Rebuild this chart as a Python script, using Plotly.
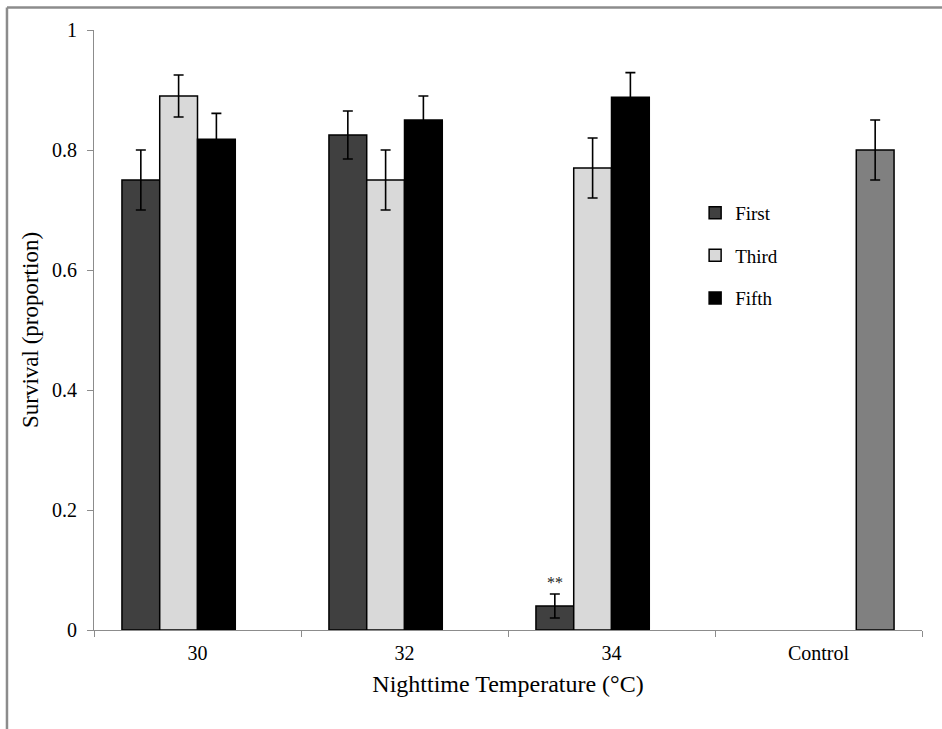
import plotly.graph_objects as go

# Survival of larvae under nighttime heat exposure, by instar treated
categories = ["30", "32", "34", "Control"]

first = [0.75, 0.825, 0.04, None]
first_err = [0.05, 0.04, 0.02, None]

third = [0.89, 0.75, 0.77, None]
third_err = [0.035, 0.05, 0.05, None]

fifth = [0.818, 0.85, 0.888, None]
fifth_err = [0.043, 0.04, 0.041, None]

control = [None, None, None, 0.80]
control_err = [None, None, None, 0.05]

y_ticks = [0, 0.2, 0.4, 0.6, 0.8, 1]
y_tick_labels = ["0", "0.2", "0.4", "0.6", "0.8", "1"]

FONT = "Liberation Serif"
AXIS_GRAY = "#8c8c8c"


def bar_trace(name, values, errors, color, show_legend=True):
    return go.Bar(
        name=name,
        x=categories,
        y=values,
        legendgroup=name,
        showlegend=show_legend,
        marker=dict(color=color, line=dict(color="black", width=1.5)),
        error_y=dict(type="data", array=errors, visible=True,
                     color="black", thickness=1.6, width=5),
    )


fig = go.Figure()
fig.add_trace(bar_trace("First", first, first_err, "#404040"))
fig.add_trace(bar_trace("Third", third, third_err, "#d9d9d9"))
fig.add_trace(bar_trace("Fifth", fifth, fifth_err, "#000000"))
fig.add_trace(bar_trace("Control", control, control_err, "#808080", show_legend=False))

# significance marker above the first-instar bar at 34 °C
# (category axes take the category index for annotation positions)
i34 = categories.index("34")
fig.add_annotation(
    x=i34, y=first[i34] + first_err[i34], xref="x", yref="y",
    xshift=-57, yshift=1, yanchor="bottom",
    text="**", showarrow=False,
    font=dict(family=FONT, size=16, color="#222222"),
)

# outer frame (top and left edges)
fig.add_shape(type="line", xref="paper", yref="paper",
              x0=-0.1051, x1=1.03, y0=1.0375, y1=1.0375,
              line=dict(color=AXIS_GRAY, width=2.5))
fig.add_shape(type="line", xref="paper", yref="paper",
              x0=-0.1051, x1=-0.1051, y0=1.0375, y1=-0.2,
              line=dict(color=AXIS_GRAY, width=2.5))

fig.update_layout(
    width=942, height=729,
    margin=dict(l=94, r=20, t=30, b=99),
    paper_bgcolor="white", plot_bgcolor="white",
    barmode="group", bargap=0.27, bargroupgap=0,
    font=dict(family=FONT, color="black"),
    showlegend=True,
    legend=dict(
        x=0.726, y=0.727, xanchor="left", yanchor="top",
        font=dict(family=FONT, size=19, color="black"),
        tracegroupgap=15, bgcolor="rgba(0,0,0,0)",
    ),
    xaxis=dict(
        type="category",
        range=[-0.5, len(categories) - 0.5],
        tickson="boundaries",
        ticks="outside", ticklen=6, tickcolor=AXIS_GRAY,
        showline=True, linecolor=AXIS_GRAY, linewidth=1.2,
        showgrid=False, tickangle=0, ticklabelstandoff=5,
        tickfont=dict(family=FONT, size=20, color="black"),
        title=dict(text="Nighttime Temperature (°C)", standoff=12,
                   font=dict(family=FONT, size=24, color="black")),
    ),
    yaxis=dict(
        range=[0, 1],
        tickvals=y_ticks, ticktext=y_tick_labels,
        ticks="outside", ticklen=6, tickcolor=AXIS_GRAY,
        showline=True, linecolor=AXIS_GRAY, linewidth=1.2,
        showgrid=False, zeroline=False, ticklabelstandoff=6,
        tickfont=dict(family=FONT, size=20, color="black"),
        title=dict(text="Survival (proportion)", standoff=6,
                   font=dict(family=FONT, size=23, color="black")),
    ),
)

fig.write_html("out.html")
